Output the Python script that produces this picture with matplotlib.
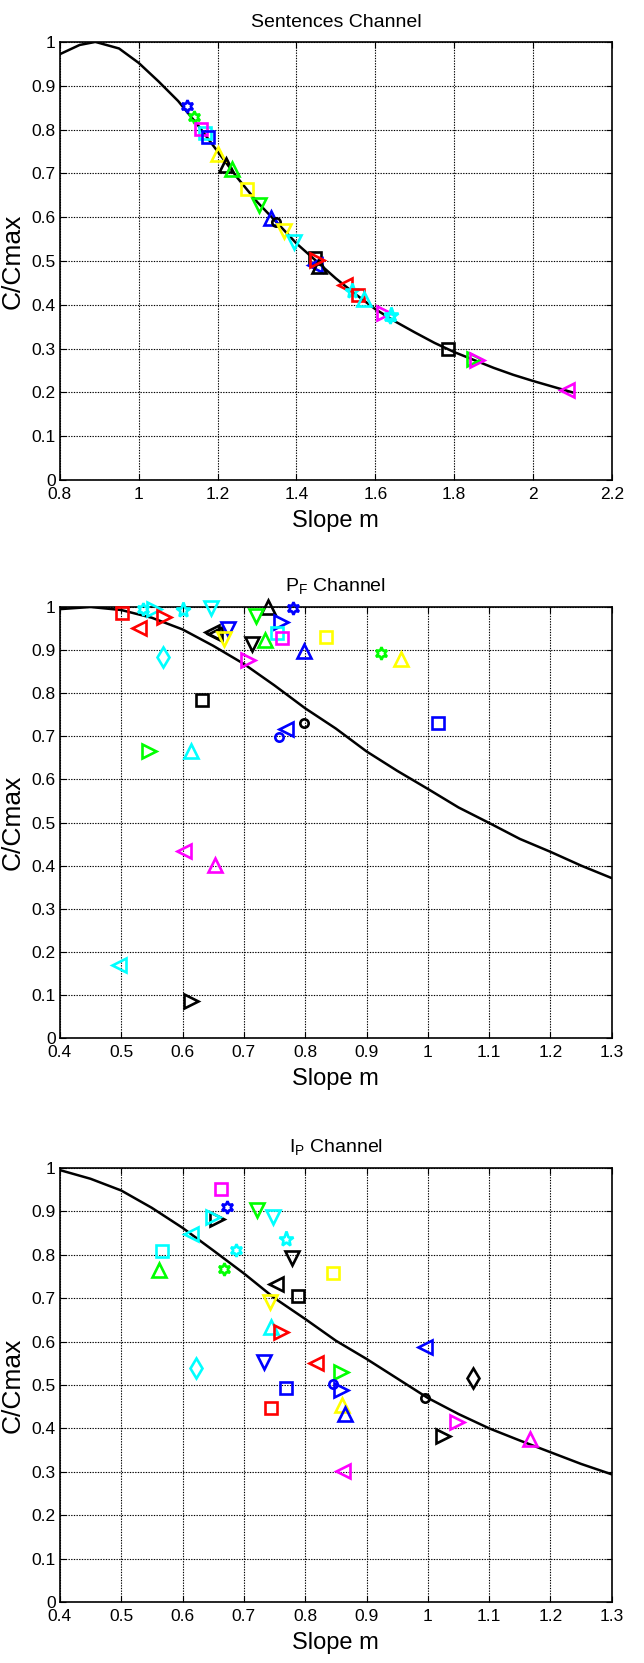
import numpy as np
import matplotlib
matplotlib.use("Agg")
import matplotlib.pyplot as plt
from matplotlib.ticker import FormatStrFormatter, MultipleLocator

plt.rcParams['font.family'] = ['Liberation Sans Narrow', 'Liberation Sans', 'DejaVu Sans']
plt.rcParams['mathtext.fontset'] = 'custom'
plt.rcParams['mathtext.rm'] = 'Liberation Sans Narrow'

# ---------------------------------------------------------------- data
# fitted curves
sent_curve_x = [0.80, 0.85, 0.89, 0.95, 1.00, 1.05, 1.10, 1.15, 1.20, 1.25, 1.30, 1.35, 1.40,
                1.45, 1.50, 1.55, 1.60, 1.65, 1.70, 1.75, 1.80, 1.85, 1.90, 1.95, 2.00, 2.05, 2.10]
sent_curve_y = [0.972, 0.993, 1.000, 0.985, 0.952, 0.910, 0.865, 0.810, 0.750, 0.690, 0.635, 0.588, 0.540,
                0.500, 0.460, 0.424, 0.390, 0.362, 0.337, 0.313, 0.292, 0.274, 0.256, 0.240, 0.226, 0.213, 0.200]

pf_curve_x = [0.40, 0.45, 0.50, 0.55, 0.60, 0.65, 0.70, 0.75, 0.80, 0.85, 0.90, 0.95, 1.00,
              1.05, 1.10, 1.15, 1.20, 1.25, 1.30]
pf_curve_y = [0.995, 1.000, 0.993, 0.975, 0.948, 0.910, 0.868, 0.818, 0.765, 0.718, 0.665, 0.620, 0.578,
              0.535, 0.499, 0.462, 0.432, 0.400, 0.371]

ip_curve_x = [0.40, 0.45, 0.50, 0.55, 0.60, 0.65, 0.70, 0.75, 0.80, 0.85, 0.90, 0.95, 1.00,
              1.05, 1.10, 1.15, 1.20, 1.25, 1.30]
ip_curve_y = [0.995, 0.975, 0.948, 0.908, 0.862, 0.810, 0.757, 0.700, 0.652, 0.602, 0.560, 0.515, 0.470,
              0.433, 0.400, 0.372, 0.345, 0.318, 0.294]

# subjects: slope, C/Cmax, marker, colour
sent_x = [1.123, 1.139, 1.167, 1.159, 1.175, 1.201, 1.222, 1.236, 1.274, 1.305, 1.336, 1.347, 1.368,
          1.394, 1.446, 1.448, 1.458, 1.451, 1.524, 1.542, 1.557, 1.572, 1.622, 1.637, 1.640, 1.784,
          1.850, 1.858, 2.086]
sent_y = [0.853, 0.828, 0.792, 0.801, 0.783, 0.745, 0.718, 0.710, 0.664, 0.628, 0.598, 0.590, 0.568,
          0.544, 0.507, 0.490, 0.488, 0.503, 0.444, 0.432, 0.422, 0.414, 0.382, 0.372, 0.376, 0.300,
          0.276, 0.273, 0.206]
sent_mk = ['h', 'h', 's', 's', 's', '^', '^', '^', 's', 'v', '^', 'o', 'v',
           'v', 's', '<', '^', '>', '<', 'p', 's', '^', '>', 'h', 'p', 's',
           '>', '>', '<']
sent_col = ['b', 'g', 'c', 'm', 'b', 'y', 'k', 'g', 'y', 'g', 'b', 'k', 'y',
            'c', 'k', 'b', 'k', 'r', 'r', 'c', 'r', 'c', 'm', 'c', 'c', 'k',
            'g', 'm', 'm']

pf_x = [0.502, 0.535, 0.554, 0.570, 0.529, 0.600, 0.646, 0.568, 0.648, 0.653, 0.674, 0.667, 0.740,
        0.719, 0.713, 0.734, 0.780, 0.761, 0.754, 0.762, 0.706, 0.798, 0.834, 0.924, 0.957, 0.631,
        0.768, 0.758, 0.798, 1.016, 0.546, 0.614, 0.602, 0.653, 0.496, 0.614]
pf_y = [0.986, 0.996, 0.995, 0.977, 0.952, 0.992, 0.998, 0.884, 0.943, 0.938, 0.950, 0.925, 1.000,
        0.978, 0.915, 0.924, 0.998, 0.965, 0.940, 0.929, 0.876, 0.897, 0.930, 0.893, 0.880, 0.784,
        0.717, 0.698, 0.730, 0.731, 0.667, 0.667, 0.433, 0.402, 0.170, 0.085]
pf_mk = ['s', 'h', '>', '>', '<', 'p', 'v', 'd', '<', '<', 'v', 'v', '^',
         'v', 'v', '^', 'h', '>', 's', 's', '>', '^', 's', 'h', '^', 's',
         '<', 'o', 'o', 's', '>', '^', '<', '^', '<', '>']
pf_col = ['r', 'c', 'c', 'r', 'r', 'c', 'c', 'c', 'k', 'k', 'b', 'y', 'k',
          'g', 'k', 'g', 'b', 'b', 'c', 'm', 'm', 'b', 'y', 'g', 'y', 'k',
          'b', 'b', 'k', 'b', 'g', 'c', 'm', 'm', 'c', 'k']

ip_x = [0.662, 0.672, 0.657, 0.649, 0.722, 0.747, 0.613, 0.769, 0.567, 0.687, 0.778, 0.562, 0.668,
        0.846, 0.752, 0.788, 0.742, 0.744, 0.760, 0.996, 0.622, 0.733, 0.818, 0.858, 0.846, 0.859,
        0.769, 0.744, 0.860, 0.865, 1.073, 0.995, 1.047, 1.024, 1.166, 0.862]
ip_y = [0.952, 0.911, 0.883, 0.887, 0.904, 0.888, 0.847, 0.837, 0.808, 0.811, 0.793, 0.765, 0.767,
        0.758, 0.733, 0.706, 0.690, 0.634, 0.621, 0.587, 0.540, 0.552, 0.550, 0.529, 0.502, 0.488,
        0.492, 0.446, 0.454, 0.432, 0.517, 0.469, 0.415, 0.382, 0.376, 0.301]
ip_mk = ['s', 'h', '>', '>', 'v', 'v', '<', 'p', 's', 'h', 'v', '^', 'h',
         's', '<', 's', 'v', '^', '>', '<', 'd', 'v', '<', '>', 'o', '>',
         's', 's', '^', '^', 'd', 'o', '>', '>', '^', '<']
ip_col = ['m', 'b', 'k', 'c', 'g', 'c', 'c', 'c', 'c', 'c', 'k', 'g', 'g',
          'y', 'k', 'k', 'y', 'c', 'r', 'b', 'c', 'b', 'r', 'g', 'b', 'b',
          'b', 'r', 'y', 'b', 'k', 'k', 'm', 'k', 'm', 'm']

# ---------------------------------------------------------------- style
matlabColours = {'b': (0, 0, 1), 'g': (0, 1, 0), 'r': (1, 0, 0), 'c': (0, 1, 1),
                 'm': (1, 0, 1), 'y': (1, 1, 0), 'k': (0, 0, 0)}
markerMap = {'h': (6, 1, 0), 'p': '*', 'd': 'd'}
markerSize = {'s': 9, '^': 9.5, 'v': 9.5, '<': 9.5, '>': 9.5, 'h': 9, 'p': 11, 'o': 6, 'd': 10}


def drawPanel(ax, cx, cy, px, py, mk, col, xlim, xstep, title, titlePad):
  ax.plot(cx, cy, color='k', linewidth=1.8, zorder=3)
  for x, y, m, c in zip(px, py, mk, col):
    ax.plot(x, y, linestyle='none', marker=markerMap.get(m, m),
            markersize=markerSize[m], markerfacecolor='none',
            markeredgecolor=matlabColours[c], markeredgewidth=1.9,
            clip_on=False, zorder=4)
  ax.set_xlim(xlim)
  ax.set_ylim(0, 1)
  ax.xaxis.set_major_locator(MultipleLocator(xstep))
  ax.yaxis.set_major_locator(MultipleLocator(0.1))
  ax.xaxis.set_major_formatter(FormatStrFormatter('%g'))
  ax.yaxis.set_major_formatter(FormatStrFormatter('%g'))
  ax.grid(True, color='k', linestyle=(0, (1.2, 1.2)), linewidth=0.8)
  ax.tick_params(direction='in', top=True, right=True, length=4, width=0.8,
                 labelsize=12.5)
  ax.tick_params(axis='x', pad=5)
  ax.tick_params(axis='y', pad=3)
  for s in ax.spines.values():
    s.set_linewidth(1.2)
  ax.set_xlabel('Slope m', fontsize=17, labelpad=6)
  ax.set_ylabel('C/Cmax', fontsize=19, labelpad=5)
  ax.set_title(title, fontsize=14, pad=titlePad)


fig = plt.figure(figsize=(6.44, 16.63), dpi=100)

ax1 = fig.add_axes([0.093, 0.7114, 0.857, 0.2634])
drawPanel(ax1, sent_curve_x, sent_curve_y, sent_x, sent_y, sent_mk, sent_col,
          (0.8, 2.2), 0.2, 'Sentences Channel', 11)

ax2 = fig.add_axes([0.093, 0.3758, 0.857, 0.2592])
drawPanel(ax2, pf_curve_x, pf_curve_y, pf_x, pf_y, pf_mk, pf_col,
          (0.4, 1.3), 0.1, r'P$_{\mathregular{F}}$ Channel', 11)

ax3 = fig.add_axes([0.093, 0.0367, 0.857, 0.2610])
drawPanel(ax3, ip_curve_x, ip_curve_y, ip_x, ip_y, ip_mk, ip_col,
          (0.4, 1.3), 0.1, r'I$_{\mathregular{P}}$ Channel', 11)

fig.savefig('out.png', dpi=100)
